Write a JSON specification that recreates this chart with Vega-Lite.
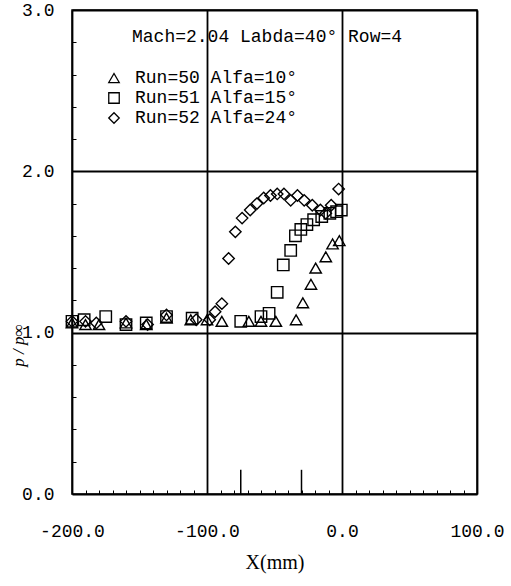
{
  "$schema": "https://vega.github.io/schema/vega-lite/v6.json",
  "width": 405,
  "height": 484,
  "autosize": "none",
  "padding": {"left": 72, "top": 10, "right": 34, "bottom": 92},
  "background": "white",
  "config": {
    "view": {"stroke": "black", "strokeWidth": 1.5},
    "font": "Liberation Mono"
  },
  "title": {
    "text": "Mach=2.04 Labda=40° Row=4",
    "anchor": "start",
    "frame": "group",
    "orient": "top",
    "offset": 0,
    "dx": 60,
    "dy": 63,
    "font": "Liberation Mono",
    "fontSize": 18,
    "fontWeight": "normal",
    "color": "black",
    "baseline": "bottom"
  },
  "datasets": {
    "points": [
      {"x": -200, "y": 1.06, "run": "Run=50 Alfa=10°"},
      {"x": -190, "y": 1.05, "run": "Run=50 Alfa=10°"},
      {"x": -180, "y": 1.05, "run": "Run=50 Alfa=10°"},
      {"x": -160, "y": 1.06, "run": "Run=50 Alfa=10°"},
      {"x": -145, "y": 1.05, "run": "Run=50 Alfa=10°"},
      {"x": -130, "y": 1.09, "run": "Run=50 Alfa=10°"},
      {"x": -112, "y": 1.08, "run": "Run=50 Alfa=10°"},
      {"x": -100, "y": 1.08, "run": "Run=50 Alfa=10°"},
      {"x": -89, "y": 1.07, "run": "Run=50 Alfa=10°"},
      {"x": -69, "y": 1.07, "run": "Run=50 Alfa=10°"},
      {"x": -60, "y": 1.07, "run": "Run=50 Alfa=10°"},
      {"x": -49, "y": 1.07, "run": "Run=50 Alfa=10°"},
      {"x": -34, "y": 1.08, "run": "Run=50 Alfa=10°"},
      {"x": -29, "y": 1.185, "run": "Run=50 Alfa=10°"},
      {"x": -23, "y": 1.3, "run": "Run=50 Alfa=10°"},
      {"x": -19.5, "y": 1.4, "run": "Run=50 Alfa=10°"},
      {"x": -12, "y": 1.47, "run": "Run=50 Alfa=10°"},
      {"x": -7, "y": 1.55, "run": "Run=50 Alfa=10°"},
      {"x": -2, "y": 1.57, "run": "Run=50 Alfa=10°"},
      {"x": -200, "y": 1.07, "run": "Run=51 Alfa=15°"},
      {"x": -191, "y": 1.08, "run": "Run=51 Alfa=15°"},
      {"x": -175, "y": 1.1, "run": "Run=51 Alfa=15°"},
      {"x": -160, "y": 1.05, "run": "Run=51 Alfa=15°"},
      {"x": -145, "y": 1.06, "run": "Run=51 Alfa=15°"},
      {"x": -130, "y": 1.1, "run": "Run=51 Alfa=15°"},
      {"x": -111, "y": 1.09, "run": "Run=51 Alfa=15°"},
      {"x": -75, "y": 1.07, "run": "Run=51 Alfa=15°"},
      {"x": -60, "y": 1.1, "run": "Run=51 Alfa=15°"},
      {"x": -54, "y": 1.12, "run": "Run=51 Alfa=15°"},
      {"x": -48, "y": 1.25, "run": "Run=51 Alfa=15°"},
      {"x": -43.5, "y": 1.42, "run": "Run=51 Alfa=15°"},
      {"x": -38, "y": 1.51, "run": "Run=51 Alfa=15°"},
      {"x": -34.5, "y": 1.6, "run": "Run=51 Alfa=15°"},
      {"x": -30.5, "y": 1.64, "run": "Run=51 Alfa=15°"},
      {"x": -26, "y": 1.67, "run": "Run=51 Alfa=15°"},
      {"x": -21, "y": 1.7, "run": "Run=51 Alfa=15°"},
      {"x": -15, "y": 1.72, "run": "Run=51 Alfa=15°"},
      {"x": -9, "y": 1.74, "run": "Run=51 Alfa=15°"},
      {"x": -4, "y": 1.75, "run": "Run=51 Alfa=15°"},
      {"x": -0.5, "y": 1.76, "run": "Run=51 Alfa=15°"},
      {"x": -200, "y": 1.07, "run": "Run=52 Alfa=24°"},
      {"x": -190, "y": 1.07, "run": "Run=52 Alfa=24°"},
      {"x": -182, "y": 1.06, "run": "Run=52 Alfa=24°"},
      {"x": -160, "y": 1.07, "run": "Run=52 Alfa=24°"},
      {"x": -144, "y": 1.05, "run": "Run=52 Alfa=24°"},
      {"x": -130, "y": 1.11, "run": "Run=52 Alfa=24°"},
      {"x": -108, "y": 1.08, "run": "Run=52 Alfa=24°"},
      {"x": -98, "y": 1.08, "run": "Run=52 Alfa=24°"},
      {"x": -94, "y": 1.13, "run": "Run=52 Alfa=24°"},
      {"x": -89, "y": 1.18, "run": "Run=52 Alfa=24°"},
      {"x": -84, "y": 1.46, "run": "Run=52 Alfa=24°"},
      {"x": -79, "y": 1.625, "run": "Run=52 Alfa=24°"},
      {"x": -74, "y": 1.71, "run": "Run=52 Alfa=24°"},
      {"x": -68, "y": 1.76, "run": "Run=52 Alfa=24°"},
      {"x": -63, "y": 1.8, "run": "Run=52 Alfa=24°"},
      {"x": -58, "y": 1.835, "run": "Run=52 Alfa=24°"},
      {"x": -53, "y": 1.85, "run": "Run=52 Alfa=24°"},
      {"x": -48, "y": 1.86, "run": "Run=52 Alfa=24°"},
      {"x": -43, "y": 1.86, "run": "Run=52 Alfa=24°"},
      {"x": -38, "y": 1.82, "run": "Run=52 Alfa=24°"},
      {"x": -33, "y": 1.85, "run": "Run=52 Alfa=24°"},
      {"x": -28, "y": 1.82, "run": "Run=52 Alfa=24°"},
      {"x": -22, "y": 1.79, "run": "Run=52 Alfa=24°"},
      {"x": -16, "y": 1.76, "run": "Run=52 Alfa=24°"},
      {"x": -12, "y": 1.74, "run": "Run=52 Alfa=24°"},
      {"x": -8, "y": 1.79, "run": "Run=52 Alfa=24°"},
      {"x": -2.5, "y": 1.89, "run": "Run=52 Alfa=24°"}
    ],
    "markers": [
      {"x": -75, "y": 0, "y2": 0.15},
      {"x": -30, "y": 0, "y2": 0.15}
    ]
  },
  "encoding": {
    "x": {
      "field": "x",
      "type": "quantitative",
      "scale": {"domain": [-200, 100], "nice": false, "zero": false},
      "axis": {
        "title": "X(mm)",
        "titleFont": "Liberation Serif",
        "titleFontSize": 20,
        "titleFontWeight": "normal",
        "titleColor": "black",
        "titlePadding": 12,
        "values": [-200, -190, -180, -170, -160, -150, -140, -130, -120, -110, -100, -90, -80, -70, -60, -50, -40, -30, -20, -10, 0, 10, 20, 30, 40, 50, 60, 70, 80, 90, 100],
        "labelExpr": "datum.value % 100 === 0 ? (datum.value < 0 ? '-' : '') + format(abs(datum.value), '.1f') : ''",
        "labelFont": "Liberation Mono",
        "labelFontSize": 18,
        "labelColor": "black",
        "labelPadding": 28,
        "labelFlush": false,
        "labelOverlap": false,
        "domain": false,
        "grid": true,
        "gridColor": "black",
        "gridWidth": 1.8,
        "gridOpacity": {"condition": {"test": "datum.value % 100 === 0", "value": 1}, "value": 0},
        "ticks": true,
        "tickColor": "black",
        "tickWidth": 1,
        "tickSize": {"condition": {"test": "datum.value % 100 === 0", "value": 0}, "value": -4}
      }
    },
    "y": {
      "field": "y",
      "type": "quantitative",
      "scale": {"domain": [0, 3], "nice": false, "zero": false},
      "axis": {
        "title": "p / p∞",
        "titleFont": "Liberation Serif",
        "titleFontStyle": "italic",
        "titleFontSize": 17,
        "titleFontWeight": "normal",
        "titleColor": "black",
        "titleX": -45,
        "titleY": 335,
        "values": [0, 0.2, 0.4, 0.6, 0.8, 1, 1.2, 1.4, 1.6, 1.8, 2, 2.2, 2.4, 2.6, 2.8, 3],
        "labelExpr": "abs(datum.value - round(datum.value)) < 0.01 ? format(datum.value, '.1f') : ''",
        "labelFont": "Liberation Mono",
        "labelFontSize": 18,
        "labelColor": "black",
        "labelPadding": 18,
        "labelFlush": false,
        "labelOverlap": false,
        "domain": false,
        "grid": true,
        "gridColor": "black",
        "gridWidth": 1.8,
        "gridOpacity": {"condition": {"test": "abs(datum.value - round(datum.value)) < 0.01", "value": 1}, "value": 0},
        "ticks": true,
        "tickColor": "black",
        "tickWidth": 1,
        "tickSize": {"condition": {"test": "abs(datum.value - round(datum.value)) < 0.01", "value": 0}, "value": -4}
      }
    }
  },
  "layer": [
    {
      "data": {"name": "points"},
      "mark": {"type": "point", "filled": false, "color": "black", "strokeWidth": 1.4, "size": 130, "opacity": 1},
      "encoding": {
        "shape": {
          "field": "run",
          "type": "nominal",
          "scale": {
            "domain": ["Run=50 Alfa=10°", "Run=51 Alfa=15°", "Run=52 Alfa=24°"],
            "range": ["triangle-up", "square", "diamond"]
          },
          "legend": {
            "title": null,
            "orient": "none",
            "legendX": 33,
            "legendY": 59,
            "labelFont": "Liberation Mono",
            "labelFontSize": 18,
            "labelColor": "black",
            "labelLimit": 0,
            "labelOffset": 12,
            "symbolSize": 110,
            "symbolStrokeWidth": 1.3,
            "symbolStrokeColor": "black",
            "symbolFillColor": "transparent",
            "rowPadding": 2
          }
        }
      }
    },
    {
      "data": {"name": "markers"},
      "mark": {"type": "rule", "color": "black", "strokeWidth": 1.5},
      "encoding": {
        "y2": {"field": "y2"}
      }
    }
  ]
}
